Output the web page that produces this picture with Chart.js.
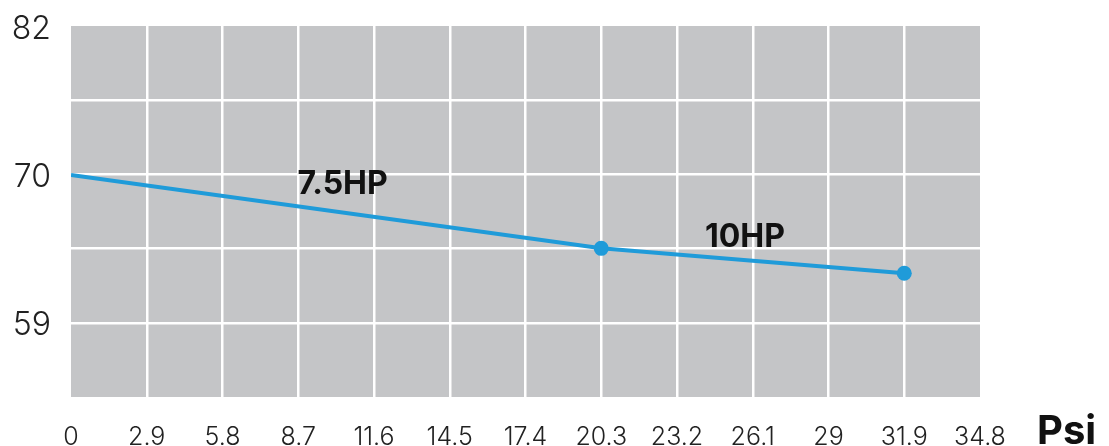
<!DOCTYPE html>
<html>
<head>
<meta charset="utf-8">
<script src="https://cdn.jsdelivr.net/npm/chart.js@4"></script>
<style>
  html, body { margin: 0; padding: 0; background: #fff; }
  #wrap { width: 1109px; height: 446px; position: relative; }
</style>
</head>
<body>
<div id="wrap"><canvas id="myChart"></canvas></div>
<script>
// psi values and the curve
const psi = [0, 20.3, 31.9];
const values = [70.45, 64.77, 62.84];
const showPoint = [false, true, true];

// axis ticks
const xTicks = [0, 2.9, 5.8, 8.7, 11.6, 14.5, 17.4, 20.3, 23.2, 26.1, 29, 31.9, 34.8];
const yTicks = [53.25, 59, 64.75, 70.5, 76.25, 82];
const yTickLabels = ['', '59', '', '70', '', '82'];

// segment labels
const hpText = ['7.5HP', '10HP'];
const hpX = [10.4, 25.8];
const hpY = [69.75, 65.6];

const ctx = document.getElementById('myChart');
const lineColor = '#1f9bd9';

// grey plot background + extra texts
const extras = {
  id: 'extras',
  beforeDraw(chart) {
    const a = chart.chartArea;
    const c = chart.ctx;
    c.save();
    c.fillStyle = '#c4c5c7';
    c.fillRect(a.left, a.top, a.right - a.left, a.bottom - a.top);
    c.restore();
  },
  afterDatasetsDraw(chart) {
    const c = chart.ctx;
    const x = chart.scales.x;
    const y = chart.scales.y;
    c.save();
    c.fillStyle = '#111';
    c.font = 'bold 32px Inter';
    c.textAlign = 'center';
    c.textBaseline = 'middle';
    hpText.forEach((t, i) => {
      c.fillText(t, x.getPixelForValue(hpX[i]), y.getPixelForValue(hpY[i]));
    });
    c.font = 'bold 40px Inter';
    c.textAlign = 'left';
    c.fillText('Psi', chart.chartArea.right + 57, 432);
    c.restore();
  }
};

new Chart(ctx, {
  type: 'line',
  data: {
    datasets: [{
      data: psi.map((p, i) => ({ x: p, y: values[i] })),
      borderColor: lineColor,
      backgroundColor: lineColor,
      borderWidth: 4,
      tension: 0,
      fill: false,
      pointRadius: showPoint.map(s => s ? 7.5 : 0),
      pointHoverRadius: showPoint.map(s => s ? 7.5 : 0),
      pointBorderWidth: 0,
      pointBackgroundColor: lineColor
    }]
  },
  options: {
    responsive: true,
    maintainAspectRatio: false,
    animation: false,
    layout: { padding: { top: 26, right: 129, bottom: 0, left: 0 } },
    plugins: { legend: { display: false }, tooltip: { enabled: false } },
    scales: {
      x: {
        type: 'linear',
        min: 0,
        max: 34.8,
        afterBuildTicks: s => { s.ticks = xTicks.map(v => ({ value: v })); },
        afterFit: s => { s.height = 49; s.paddingLeft = 0; s.paddingRight = 0; },
        border: { display: false },
        grid: {
          color: c => (c.index === 0 || c.index === xTicks.length - 1) ? 'rgba(0,0,0,0)' : '#ffffff',
          lineWidth: 2.5,
          drawTicks: false
        },
        ticks: {
          padding: 25,
          maxRotation: 0,
          autoSkip: false,
          color: '#222',
          font: { family: 'Inter', size: 25, weight: 300 },
          callback: v => String(v)
        }
      },
      y: {
        type: 'linear',
        min: 53.25,
        max: 82,
        afterBuildTicks: s => { s.ticks = yTicks.map(v => ({ value: v })); },
        afterFit: s => { s.width = 71; s.paddingTop = 0; s.paddingBottom = 0; },
        border: { display: false },
        grid: {
          color: c => (c.index === 0 || c.index === yTicks.length - 1) ? 'rgba(0,0,0,0)' : '#ffffff',
          lineWidth: 2.5,
          drawTicks: false
        },
        ticks: {
          padding: 20,
          labelOffset: 3,
          autoSkip: false,
          color: '#222',
          font: { family: 'Inter', size: 32, weight: 300 },
          callback: (v, i) => yTickLabels[i]
        }
      }
    }
  },
  plugins: [extras]
});
</script>
</body>
</html>
